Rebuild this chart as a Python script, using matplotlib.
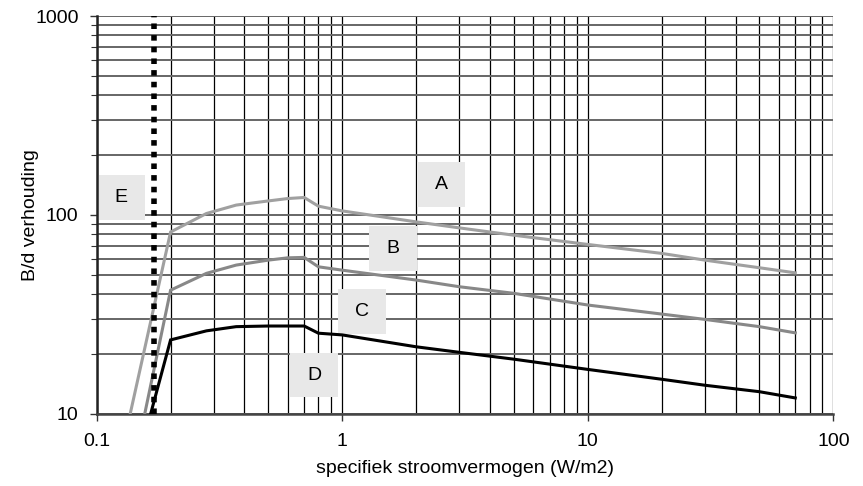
import matplotlib
matplotlib.use("Agg")
import matplotlib.pyplot as plt
from matplotlib.patches import Rectangle
from matplotlib.ticker import LogLocator, NullFormatter, FixedLocator, FixedFormatter

plt.rcParams['font.family'] = ['Liberation Sans', 'DejaVu Sans']

# specific stream power (W/m2) and width/depth ratio per curve
x_a = [0.137, 0.2, 0.28, 0.37, 0.5, 0.6, 0.7, 0.8, 1, 2, 3, 5, 10, 20, 30, 50, 70]
y_a = [10, 82, 101.6, 112, 117.5, 120.8, 122.3, 110.6, 104.7, 92.2, 86, 79, 71, 64, 59.2, 54.2, 51.1]

x_b = [0.157, 0.2, 0.28, 0.37, 0.5, 0.6, 0.7, 0.8, 1, 2, 3, 5, 10, 20, 30, 50, 70]
y_b = [10, 41.8, 50.8, 55.9, 59.2, 60.8, 61.1, 54.8, 52.7, 47, 43.5, 40.3, 35.2, 31.7, 29.8, 27.4, 25.5]

x_d = [0.166, 0.2, 0.28, 0.37, 0.5, 0.6, 0.7, 0.8, 1, 2, 3, 5, 10, 20, 30, 50, 70]
y_d = [10, 23.5, 26.1, 27.4, 27.6, 27.6, 27.6, 25.4, 24.9, 21.7, 20.35, 18.8, 16.7, 14.9, 13.9, 12.9, 12.0]

# vertical threshold line E
x_e = 0.171

# zone labels and their centre positions (data coordinates)
zone_labels = ['A', 'B', 'C', 'D', 'E']
zone_x = [2.53, 1.61, 1.2, 0.768, 0.1256]
zone_y = [142, 67.8, 32.8, 15.65, 122]

x_ticks = [0.1, 1, 10, 100]
x_ticklabels = ['0.1', '1', '10', '100']
y_ticks = [10, 100, 1000]
y_ticklabels = ['10', '100', '1000']

fig = plt.figure(figsize=(8.63, 4.86), dpi=100)
ax = fig.add_axes([0.112, 0.1488, 0.8536, 0.8182])
ax.set_xscale('log')
ax.set_yscale('log')
ax.set_xlim(0.1, 100)
ax.set_ylim(10, 1000)

# grid: grey horizontal lines, black vertical lines
ax.yaxis.set_major_locator(FixedLocator(y_ticks))
ax.yaxis.set_major_formatter(FixedFormatter(y_ticklabels))
ax.yaxis.set_minor_locator(LogLocator(base=10, subs=range(2, 10)))
ax.yaxis.set_minor_formatter(NullFormatter())
ax.xaxis.set_major_locator(FixedLocator(x_ticks))
ax.xaxis.set_major_formatter(FixedFormatter(x_ticklabels))
ax.xaxis.set_minor_locator(LogLocator(base=10, subs=range(2, 10)))
ax.xaxis.set_minor_formatter(NullFormatter())

ax.grid(True, axis='y', which='both', color='#666666', linewidth=1.4, zorder=0)
ax.grid(True, axis='x', which='both', color='black', linewidth=0.9, zorder=0)
ax.set_axisbelow(True)

ax.tick_params(axis='y', which='major', direction='out', length=5, width=1, color='#333333',
               labelsize=14, pad=8)
ax.tick_params(axis='y', which='minor', direction='out', length=4, width=0.8, color='#333333')
ax.tick_params(axis='x', which='major', direction='out', length=5, width=1, color='#333333',
               labelsize=14, pad=9)
ax.tick_params(axis='x', which='minor', length=0)

for side in ['top', 'right']:
    ax.spines[side].set_visible(False)
ax.spines['left'].set_color('#222222')
ax.spines['left'].set_linewidth(1.8)
ax.spines['bottom'].set_color('#444444')
ax.spines['bottom'].set_linewidth(1.8)

# curves
ax.plot(x_a, y_a, color='#a0a0a0', linewidth=2.2, zorder=3, solid_joinstyle='miter')
ax.plot(x_b, y_b, color='#888888', linewidth=2.2, zorder=3, solid_joinstyle='miter')
ax.plot(x_d, y_d, color='black', linewidth=2.2, zorder=3, solid_joinstyle='miter')

# dotted threshold line
ax.plot([x_e, x_e], [10, 1000], color='black', linewidth=4,
        linestyle=(0, (1, 1.1)), dash_capstyle='butt', zorder=4, clip_on=False)

# label boxes: fixed size in log decades around each centre
half_w = 0.098   # decades
half_h = 0.113   # decades
for lab, xc, yc in zip(zone_labels, zone_x, zone_y):
    x0 = xc * 10 ** (-half_w)
    x1 = xc * 10 ** half_w
    y0 = yc * 10 ** (-half_h)
    y1 = yc * 10 ** half_h
    ax.add_patch(Rectangle((x0, y0), x1 - x0, y1 - y0, facecolor='#e8e8e8',
                           edgecolor='none', zorder=2))
    ax.text(xc, yc, lab, ha='center', va='center', fontsize=14, color='black', zorder=5)

ax.set_xlabel('specifiek stroomvermogen (W/m2)', fontsize=14, labelpad=7)
ax.set_ylabel('B/d verhouding', fontsize=14, labelpad=-3)

fig.savefig('out.png', dpi=100)
